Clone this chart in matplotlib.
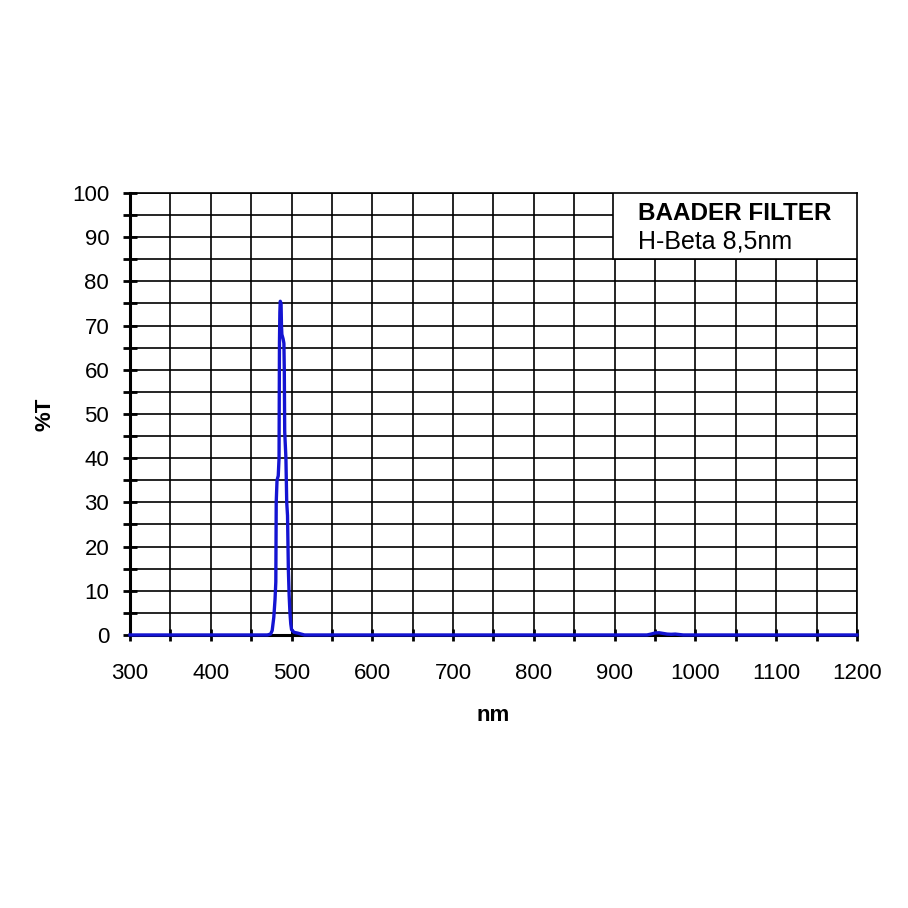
import matplotlib
matplotlib.use("Agg")
import matplotlib.pyplot as plt
from matplotlib.ticker import MultipleLocator
from matplotlib.patches import Rectangle

plt.rcParams['font.family'] = ['Liberation Sans', 'DejaVu Sans']

# Transmission curve (wavelength nm, %T)
wavelength = [300, 400, 470, 474, 476, 478, 479.5, 480.5, 481, 482, 483.5, 484.5,
              485, 485.5, 486, 487, 487.5, 488, 489.5, 490.5, 491, 491.5, 492, 493,
              494, 495, 496, 497, 498, 499, 500, 503, 508, 512, 516, 600, 800, 940,
              945, 950, 955, 960, 965, 970, 975, 980, 985, 1000, 1100, 1200]
transmission = [0, 0, 0, 0.2, 1, 4, 8, 12, 30, 35, 36, 40,
                66, 73, 75.5, 75, 70, 68, 67, 66, 60, 46, 44, 40,
                30, 27, 15, 9, 5, 2.5, 1.2, 0.6, 0.4, 0.2, 0, 0, 0, 0,
                0.2, 0.45, 0.5, 0.35, 0.2, 0.15, 0.2, 0.1, 0, 0, 0, 0]

x_ticks = [300, 400, 500, 600, 700, 800, 900, 1000, 1100, 1200]
y_ticks = [0, 10, 20, 30, 40, 50, 60, 70, 80, 90, 100]
title_line1 = "BAADER FILTER"
title_line2 = "H-Beta 8,5nm"

fig = plt.figure(figsize=(9.08, 9.08), dpi=100)
ax = fig.add_axes([0.1432, 0.3007, 0.8006, 0.4868])

ax.plot(wavelength, transmission, color='#1414d2', lw=2.4, zorder=5, clip_on=False)

ax.set_xlim(300, 1200)
ax.set_ylim(0, 100)
ax.set_xticks(x_ticks)
ax.set_yticks(y_ticks)
ax.xaxis.set_minor_locator(MultipleLocator(50))
ax.yaxis.set_minor_locator(MultipleLocator(5))
ax.grid(True, which='both', color='black', lw=1.2, zorder=1)
ax.set_axisbelow(True)

ax.tick_params(axis='y', which='both', direction='inout', length=10, width=2, pad=10,
               labelsize=16)
ax.tick_params(axis='x', which='both', direction='inout', length=9, width=2, pad=16,
               labelsize=16)

for s in ['left', 'bottom']:
    ax.spines[s].set_linewidth(2.2)
for s in ['top', 'right']:
    ax.spines[s].set_linewidth(1.2)

ax.set_xlabel('nm', fontsize=16, fontweight='bold', labelpad=15)
ax.set_ylabel('%T', fontsize=16, fontweight='bold', labelpad=12)

# Label box
ax.add_patch(Rectangle((898, 85), 302, 15, facecolor='white', edgecolor='black',
                       lw=1.2, zorder=3))
ax.text(929, 95.4, title_line1, fontsize=17.5, fontweight='bold', va='center',
        ha='left', zorder=4)
ax.text(929, 89.0, title_line2, fontsize=18, va='center', ha='left', zorder=4)

fig.savefig('out.png', dpi=100, facecolor='white')
